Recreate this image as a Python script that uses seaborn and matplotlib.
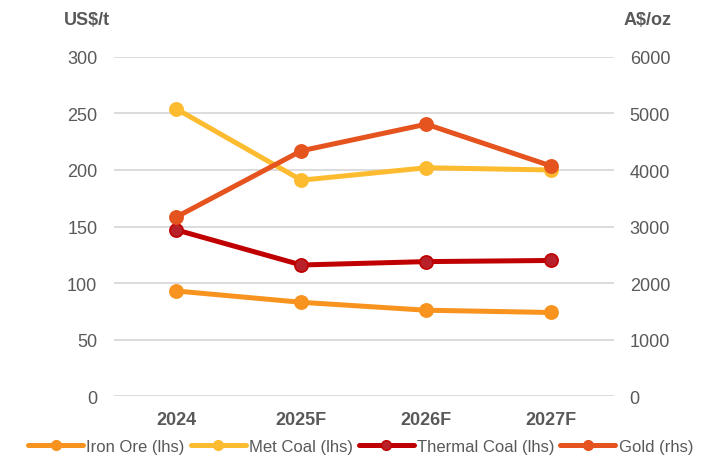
import matplotlib
matplotlib.use("Agg")
import matplotlib.pyplot as plt
from matplotlib.lines import Line2D
import seaborn as sns
import pandas as pd

years = ["2024", "2025F", "2026F", "2027F"]
iron_ore = [93, 83, 76, 74]
met_coal = [254, 191, 202, 200]
thermal_coal = [147, 116, 119, 120]
gold = [3170, 4340, 4810, 4070]

left_ticks = [0, 50, 100, 150, 200, 250, 300]
right_ticks = [0, 1000, 2000, 3000, 4000, 5000, 6000]

sns.set_theme(style="white")
plt.rcParams["font.family"] = ["Liberation Sans", "DejaVu Sans"]

text_grey = "#595959"
grid_grey = "#D9D9D9"

c_iron = "#F7931E"
c_met = "#FDBB30"
c_thermal = "#C00000"
c_thermal_face = "#B8202A"
c_gold = "#E5531E"

fig = plt.figure(figsize=(7.17, 4.56), dpi=100)
ax = fig.add_axes([0.159, 0.129, 0.697, 0.744])
ax2 = ax.twinx()

x = list(range(len(years)))
df = pd.DataFrame({"x": x, "Iron Ore": iron_ore, "Met Coal": met_coal,
                   "Thermal Coal": thermal_coal, "Gold": gold})

line_kw = dict(linewidth=3.6, marker="o", markersize=9.5, markeredgewidth=1.2)

sns.lineplot(data=df, x="x", y="Iron Ore", ax=ax, color=c_iron,
             markeredgecolor=c_iron, legend=False, **line_kw)
sns.lineplot(data=df, x="x", y="Met Coal", ax=ax, color=c_met,
             markeredgecolor=c_met, legend=False, **line_kw)
sns.lineplot(data=df, x="x", y="Thermal Coal", ax=ax, color=c_thermal,
             markerfacecolor=c_thermal_face, markeredgecolor=c_thermal,
             legend=False, **line_kw)
sns.lineplot(data=df, x="x", y="Gold", ax=ax2, color=c_gold,
             markeredgecolor=c_gold, legend=False, **line_kw)

ax.set_xlim(-0.5, 3.5)
ax.set_ylim(0, 300)
ax2.set_ylim(0, 6000)
ax.set_yticks(left_ticks)
ax2.set_yticks(right_ticks)
ax.set_xticks(x)
ax.set_xticklabels(years, fontweight="bold")

ax.yaxis.grid(True, color=grid_grey, linewidth=1.3)
ax.set_axisbelow(True)
for a in (ax, ax2):
    for s in a.spines.values():
        s.set_visible(False)
    a.set_xlabel("")
    a.set_ylabel("")
ax.tick_params(axis="both", length=0, labelsize=13, colors=text_grey)
ax.tick_params(axis="y", pad=12)
ax.tick_params(axis="x", pad=11)
ax2.tick_params(axis="y", length=0, labelsize=13, colors=text_grey, pad=11.5)

fig.text(0.089, 0.956, "US$/t", fontsize=13, fontweight="bold",
         color=text_grey, ha="left", va="center")
fig.text(0.869, 0.956, "A$/oz", fontsize=13, fontweight="bold",
         color=text_grey, ha="left", va="center")

def handle(color, face=None):
    return Line2D([], [], color=color, linewidth=3.6, marker="o", markersize=7,
                  markerfacecolor=face or color, markeredgecolor=color)

handles = [handle(c_iron), handle(c_met), handle(c_thermal, c_thermal_face), handle(c_gold)]
labels = ["Iron Ore (lhs)", "Met Coal (lhs)", "Thermal Coal (lhs)", "Gold (rhs)"]
leg = fig.legend(handles, labels, loc="lower center", bbox_to_anchor=(0.503, -0.03),
                 ncol=4, frameon=False, fontsize=12, handlelength=3.3,
                 handletextpad=0.2, columnspacing=0.35)
for t in leg.get_texts():
    t.set_color(text_grey)

fig.savefig("out.png", dpi=100)
